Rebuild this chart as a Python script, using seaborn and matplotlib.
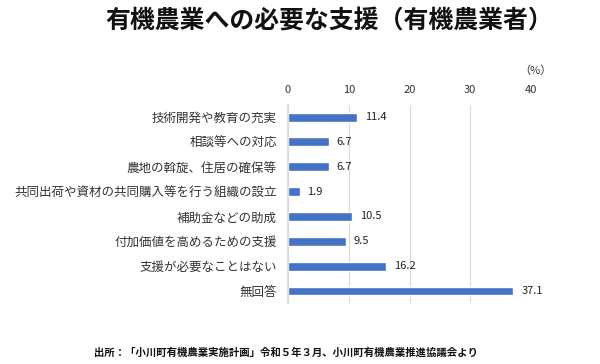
import matplotlib
matplotlib.use("Agg")
import matplotlib.pyplot as plt
import seaborn as sns
import pandas as pd

# Data
categories = [
    "技術開発や教育の充実",
    "相談等への対応",
    "農地の斡旋、住居の確保等",
    "共同出荷や資材の共同購入等を行う組織の設立",
    "補助金などの助成",
    "付加価値を高めるための支援",
    "支援が必要なことはない",
    "無回答",
]
values = [11.4, 6.7, 6.7, 1.9, 10.5, 9.5, 16.2, 37.1]
x_ticks = [0, 10, 20, 30, 40]

sns.set_theme(style="white")
plt.rcParams["font.family"] = ["Noto Sans CJK JP", "DejaVu Sans"]

df = pd.DataFrame({"item": categories, "pct": values})

fig = plt.figure(figsize=(6, 3.64), dpi=100)
ax = fig.add_axes([0.48, 0.1665, 0.405, 0.546])

sns.barplot(data=df, x="pct", y="item", orient="h", color="#4472C4",
            width=0.36, saturation=1, ax=ax)

ax.set_xlim(0, 40)
ax.set_xticks(x_ticks)
ax.xaxis.tick_top()
ax.tick_params(axis="x", length=0, labelsize=8, colors="#333333", pad=7)
ax.tick_params(axis="y", length=0, labelsize=9, colors="#333333", pad=8)
ax.grid(axis="x", color="#d9d9d9", linewidth=0.8)
ax.set_axisbelow(True)
for s in ["top", "right", "bottom"]:
    ax.spines[s].set_visible(False)
ax.spines["left"].set_color("#d9d9d9")
ax.set_xlabel("")
ax.set_ylabel("")

# value labels
for i, v in enumerate(values):
    ax.text(v + 1.3, i, f"{v:.1f}", va="center", ha="left", fontsize=8, color="#222222")

fig.text(0.892, 0.807, "（%）", ha="center", va="center", fontsize=8, color="#333333")

fig.text(0.549, 0.94, "有機農業への必要な支援（有機農業者）", ha="center", va="center",
         fontsize=17.9, fontweight="bold", color="#111111")

fig.text(0.157, 0.03, "出所：「小川町有機農業実施計画」令和５年３月、小川町有機農業推進協議会より",
         ha="left", va="center", fontsize=7.5, fontweight="bold", color="#111111")

fig.savefig("out.png", dpi=100)
